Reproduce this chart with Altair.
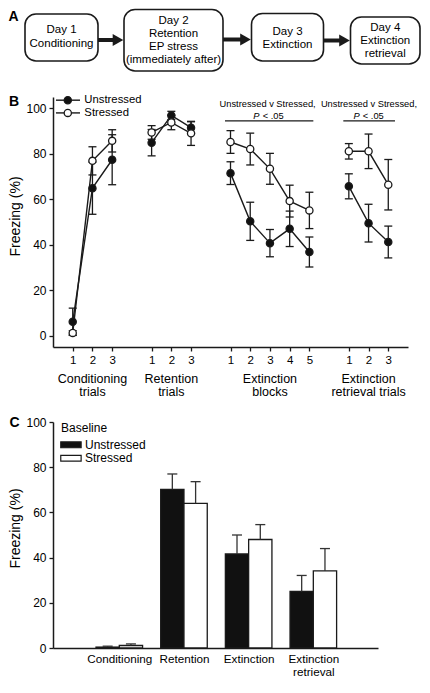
import json
import altair as alt
import pandas as pd

FONT = "Liberation Sans"
INK = "#1a1a1a"

# ======================= DATA =======================
series_names = ["Unstressed", "Stressed"]

# ---- Panel B: freezing (%) per trial / block, mean and SEM ----
cond_unstressed = [6.1, 64.9, 77.4]
cond_unstressed_sem = [6.0, 11.5, 11.0]
cond_stressed = [1.2, 76.9, 85.7]
cond_stressed_sem = [1.0, 6.2, 4.9]

ret_unstressed = [84.9, 96.9, 91.5]
ret_unstressed_sem = [5.8, 1.8, 2.6]
ret_stressed = [89.4, 93.8, 89.0]
ret_stressed_sem = [3.0, 3.2, 5.3]

ext_unstressed = [71.5, 50.3, 40.7, 47.0, 36.8]
ext_unstressed_sem = [5.0, 8.4, 6.0, 7.8, 6.6]
ext_stressed = [85.2, 82.1, 73.4, 59.2, 55.1]
ext_stressed_sem = [5.0, 7.0, 6.8, 7.0, 8.0]

retr_unstressed = [65.7, 49.5, 41.2]
retr_unstressed_sem = [5.5, 8.3, 7.0]
retr_stressed = [81.1, 81.1, 66.4]
retr_stressed_sem = [3.4, 7.6, 11.1]

b_trial_labels = [["1", "2", "3"], ["1", "2", "3"], ["1", "2", "3", "4", "5"], ["1", "2", "3"]]
b_group_titles = [["Conditioning", "trials"], ["Retention", "trials"],
                  ["Extinction", "blocks"], ["Extinction", "retrieval trials"]]
sig_text = ["Unstressed v Stressed,", "P", "< .05"]

# ---- Panel C: baseline freezing (%) per day ----
c_categories = [["Conditioning"], ["Retention"], ["Extinction"], ["Extinction", "retrieval"]]
c_unstressed = [0.4, 70.2, 41.6, 25.0]
c_unstressed_sem = [0.4, 6.8, 8.4, 7.1]
c_stressed = [1.1, 64.0, 48.0, 34.1]
c_stressed_sem = [0.7, 9.6, 6.6, 9.9]
c_legend_title = "Baseline"

# ---- Panel A: protocol ----
a_steps = [["Day 1", "Conditioning"],
           ["Day 2", "Retention", "EP stress", "(immediately after)"],
           ["Day 3", "Extinction"],
           ["Day 4", "Extinction", "retrieval"]]

# ======================= LAYOUT =======================
b_slots = [[0, 1, 2], [4, 5, 6], [8, 9, 10, 11, 12], [14, 15, 16]]
fill_scale = alt.Scale(domain=series_names, range=["#111111", "#ffffff"])

# ----------------------- Panel B -----------------------
b_series = [
    (cond_unstressed, cond_unstressed_sem, cond_stressed, cond_stressed_sem),
    (ret_unstressed, ret_unstressed_sem, ret_stressed, ret_stressed_sem),
    (ext_unstressed, ext_unstressed_sem, ext_stressed, ext_stressed_sem),
    (retr_unstressed, retr_unstressed_sem, retr_stressed, retr_stressed_sem),
]
rows = []
for gi, (slots, (u, us, s, ss)) in enumerate(zip(b_slots, b_series)):
    for name, vals, sems in ((series_names[0], u, us), (series_names[1], s, ss)):
        for x, m, e in zip(slots, vals, sems):
            rows.append({"x": x, "mean": m, "lo": m - e, "hi": m + e,
                         "series": name, "seg": f"{name}{gi}"})
dfB = pd.DataFrame(rows)

slot_label = {}
for slots, labs in zip(b_slots, b_trial_labels):
    for x, l in zip(slots, labs):
        slot_label[x] = l
all_slots = sorted(slot_label)
label_arr = [slot_label.get(i, "") for i in range(17)]
b_label_expr = json.dumps(label_arr) + "[datum.value]"

xsB = alt.Scale(domain=[-1, 17], nice=False, zero=False)
ysB = alt.Scale(domain=[-5, 105], nice=False, zero=False)
xaxB = alt.Axis(values=all_slots, labelExpr=b_label_expr, title=None, tickSize=4,
                labelPadding=3, labelFontSize=11.5, grid=False)
yaxB = alt.Axis(values=[0, 20, 40, 60, 80, 100], title="Freezing (%)", tickSize=4,
                labelPadding=3, labelFontSize=12, titleFontSize=14, titlePadding=3,
                titleY=119, grid=False)


def XB(f):
    return alt.X(f"{f}:Q", scale=xsB, axis=xaxB)


def YB(f):
    return alt.Y(f"{f}:Q", scale=ysB, axis=yaxB)


baseB = alt.Chart(dfB)
errB = baseB.mark_rule(color=INK, strokeWidth=1.3).encode(x=XB("x"), y=YB("lo"), y2="hi:Q")
capLoB = baseB.mark_tick(orient="horizontal", size=8, thickness=1.3, color=INK, opacity=1).encode(
    x=XB("x"), y=YB("lo"))
capHiB = baseB.mark_tick(orient="horizontal", size=8, thickness=1.3, color=INK, opacity=1).encode(
    x=XB("x"), y=YB("hi"))
lineB = baseB.mark_line(color=INK, strokeWidth=1.4).encode(x=XB("x"), y=YB("mean"), detail="seg:N")
ptsB = baseB.mark_circle(size=52, stroke=INK, strokeWidth=1.3, opacity=1).encode(
    x=XB("x"), y=YB("mean"),
    fill=alt.Fill("series:N", scale=fill_scale, legend=None))

# legend of panel B
legB = pd.DataFrame({"series": series_names, "x1": [-0.85, -0.85], "x2": [0.37, 0.37],
                     "xp": [-0.25, -0.25], "xt": [0.59, 0.59], "y": [103.6, 98.0]})
legLineB = alt.Chart(legB).mark_rule(color=INK, strokeWidth=1.4).encode(
    x=XB("x1"), x2="x2:Q", y=YB("y"))
legPtB = alt.Chart(legB).mark_circle(size=52, stroke=INK, strokeWidth=1.3, opacity=1).encode(
    x=XB("xp"), y=YB("y"), fill=alt.Fill("series:N", scale=fill_scale, legend=None))
legTxtB = alt.Chart(legB).mark_text(align="left", baseline="middle", font=FONT, fontSize=11.3,
                                     color="#000").encode(x=XB("xt"), y=YB("y"), text="series:N")

# significance annotations
sigRules = pd.DataFrame({"x1": [7.72, 13.72], "x2": [12.2, 16.34], "y": [94.5, 94.5]})
sigRuleB = alt.Chart(sigRules).mark_rule(color=INK, strokeWidth=1.3).encode(
    x=XB("x1"), x2="x2:Q", y=YB("y"))
sigHead = pd.DataFrame({"x": [9.88, 15.02], "y": [102.0, 102.0], "t": [sig_text[0]] * 2})
sigHeadB = alt.Chart(sigHead).mark_text(align="center", baseline="middle", font=FONT,
                                         fontSize=9.3, color="#000").encode(
    x=XB("x"), y=YB("y"), text="t:N")
sigP = pd.DataFrame({"x": [9.47, 14.55], "y": [96.5, 96.5], "t": [sig_text[1]] * 2})
sigPB = alt.Chart(sigP).mark_text(align="right", baseline="middle", font=FONT, fontSize=9.3,
                                   fontStyle="italic", color="#000").encode(
    x=XB("x"), y=YB("y"), text="t:N")
sigV = pd.DataFrame({"x": [9.63, 14.71], "y": [96.5, 96.5], "t": [sig_text[2]] * 2})
sigVB = alt.Chart(sigV).mark_text(align="left", baseline="middle", font=FONT, fontSize=9.3,
                                   color="#000").encode(
    x=XB("x"), y=YB("y"), text="t:N")

# group titles below the axis
gt_rows = []
for slots, lines in zip(b_slots, b_group_titles):
    cx = (slots[0] + slots[-1]) / 2
    for li, t in enumerate(lines):
        gt_rows.append({"x": cx, "y": -19.0 - 6.0 * li, "t": t})
grpB = alt.Chart(pd.DataFrame(gt_rows)).mark_text(
    align="center", baseline="middle", font=FONT, fontSize=12.5, color="#000").encode(
    x=XB("x"), y=YB("y"), text="t:N")

panelB_lab = alt.Chart(pd.DataFrame({"x": [-2.98], "y": [102.8], "t": ["B"]})).mark_text(
    align="center", baseline="middle", font=FONT, fontSize=14, fontWeight="bold",
    color="#000").encode(x=XB("x"), y=YB("y"), text="t:N")

chartB = alt.layer(errB, capLoB, capHiB, lineB, ptsB, legLineB, legPtB, legTxtB,
                   sigRuleB, sigHeadB, sigPB, sigVB, grpB, panelB_lab).properties(
    width=355, height=250)

# ----------------------- Panel C -----------------------
half = 0.36
c_rows = []
for gi, (u, us, s, ss) in enumerate(zip(c_unstressed, c_unstressed_sem, c_stressed, c_stressed_sem)):
    g = gi + 1
    c_rows.append({"x0": g - half, "x1": g, "xc": g - half / 2, "mean": u, "hi": u + us,
                   "series": series_names[0]})
    c_rows.append({"x0": g, "x1": g + half, "xc": g + half / 2, "mean": s, "hi": s + ss,
                   "series": series_names[1]})
dfC = pd.DataFrame(c_rows)

xsC = alt.Scale(domain=[-0.025, 5.0], nice=False, zero=False)
ysC = alt.Scale(domain=[0, 100], nice=False, zero=False)
c_label_expr = json.dumps(c_categories) + "[round(datum.value) - 1]"
xaxC = alt.Axis(values=[1, 2, 3, 4], labelExpr=c_label_expr, title=None, ticks=False,
                labelPadding=5, labelFontSize=11.7, labelLineHeight=13.5, grid=False)
yaxC = alt.Axis(values=[0, 20, 40, 60, 80, 100], title="Freezing (%)", tickSize=4,
                labelPadding=3, labelFontSize=12, titleFontSize=14, titlePadding=3,
                titleY=106, grid=False)


def XC(f):
    return alt.X(f"{f}:Q", scale=xsC, axis=xaxC)


def YC(f):
    return alt.Y(f"{f}:Q", scale=ysC, axis=yaxC)


baseC = alt.Chart(dfC)
barsC = baseC.mark_rect(stroke=INK, strokeWidth=1.3).encode(
    x=XC("x0"), x2="x1:Q", y=YC("mean"), y2=alt.datum(0),
    fill=alt.Fill("series:N", scale=fill_scale, legend=None))
errC = baseC.mark_rule(color="#333333", strokeWidth=1.3).encode(x=XC("xc"), y=YC("mean"), y2="hi:Q")
capC = baseC.mark_tick(orient="horizontal", size=10, thickness=1.3, color="#333333", opacity=1).encode(
    x=XC("xc"), y=YC("hi"))

legC = pd.DataFrame({"series": series_names, "x1": [0.095, 0.095], "x2": [0.41, 0.41],
                     "y1": [91.2, 85.2], "y2": [88.6, 82.7], "xt": [0.47, 0.47],
                     "yt": [90.0, 84.0]})
legRectC = alt.Chart(legC).mark_rect(stroke=INK, strokeWidth=1.2).encode(
    x=XC("x1"), x2="x2:Q", y=YC("y1"), y2="y2:Q",
    fill=alt.Fill("series:N", scale=fill_scale, legend=None))
legTxtC = alt.Chart(legC).mark_text(align="left", baseline="middle", font=FONT, fontSize=12,
                                     color="#000").encode(x=XC("xt"), y=YC("yt"), text="series:N")
legTitC = alt.Chart(pd.DataFrame({"x": [0.1], "y": [97.3], "t": [c_legend_title]})).mark_text(
    align="left", baseline="middle", font=FONT, fontSize=12, color="#000").encode(
    x=XC("x"), y=YC("y"), text="t:N")
panelC_lab = alt.Chart(pd.DataFrame({"x": [-0.62], "y": [99.6], "t": ["C"]})).mark_text(
    align="center", baseline="middle", font=FONT, fontSize=14, fontWeight="bold",
    color="#000").encode(x=XC("x"), y=YC("y"), text="t:N")

chartC = alt.layer(barsC, errC, capC, legRectC, legTxtC, legTitC, panelC_lab).properties(
    width=325, height=226)

# ----------------------- Panel A -----------------------
# boxes: x-left, x-right, y-top, y-bottom (pixels, relative to the panel's top-left reference)
a_boxes = [(24, 97, 5, 52), (123, 222, 0.5, 62), (250.5, 322.5, 4.5, 52), (349.5, 419, 8, 55)]
a_text_y0 = [21, 11.5, 22.5, 18.5]
a_line_h = [14, 13, 13.5, 13]
a_arrows = [(97, 122.5, 31.0), (222, 250, 30.5), (322.5, 349, 31.5)]

boxes = pd.DataFrame([{"x1": b[0], "x2": b[1], "y1": b[2], "y2": b[3]} for b in a_boxes])
t_rows = []
for (x1, x2, _, _), lines, y0, lh in zip(a_boxes, a_steps, a_text_y0, a_line_h):
    for li, t in enumerate(lines):
        t_rows.append({"x": (x1 + x2) / 2, "y": y0 + lh * li, "t": t})
arrows = pd.DataFrame([{"x1": a[0], "x2": a[1] - 8, "xh": a[1] - 5.5, "y": a[2]} for a in a_arrows])

xsA = alt.Scale(domain=[52, 407], nice=False, zero=False)
ysA = alt.Scale(domain=[13, 0], nice=False, zero=False)


def XA(f):
    return alt.X(f"{f}:Q", scale=xsA, axis=None)


def YA(f):
    return alt.Y(f"{f}:Q", scale=ysA, axis=None)


boxA = alt.Chart(boxes).mark_rect(fill="white", stroke=INK, strokeWidth=1.6, cornerRadius=11).encode(
    x=XA("x1"), x2="x2:Q", y=YA("y1"), y2="y2:Q")
txtA = alt.Chart(pd.DataFrame(t_rows)).mark_text(
    align="center", baseline="middle", font=FONT, fontSize=11.5, color="#000").encode(
    x=XA("x"), y=YA("y"), text="t:N")
shaftA = alt.Chart(arrows).mark_rule(color=INK, strokeWidth=4).encode(
    x=XA("x1"), x2="x2:Q", y=YA("y"))
headA = alt.Chart(arrows).mark_point(shape="triangle-right", filled=True, size=150, color=INK,
                                     opacity=1).encode(x=XA("xh"), y=YA("y"))
panelA_lab = alt.Chart(pd.DataFrame({"x": [12.5], "y": [8.0], "t": ["A"]})).mark_text(
    align="center", baseline="middle", font=FONT, fontSize=14, fontWeight="bold",
    color="#000").encode(x=XA("x"), y=YA("y"), text="t:N")

chartA = alt.layer(boxA, txtA, shaftA, headA, panelA_lab).properties(width=355, height=13)

# ----------------------- Assemble -----------------------
chart = alt.vconcat(chartA, chartB, chartC, spacing=75, bounds="flush").properties(
    padding=0
).configure_view(stroke=None).configure_axis(
    domainColor=INK, domainWidth=1.5, tickColor=INK, tickWidth=1.3,
    labelColor="#000", labelFont=FONT, titleFont=FONT, titleColor="#000",
    titleFontWeight="normal", grid=False
)

chart.save("out.html", embed_options={"renderer": "svg", "actions": False})
